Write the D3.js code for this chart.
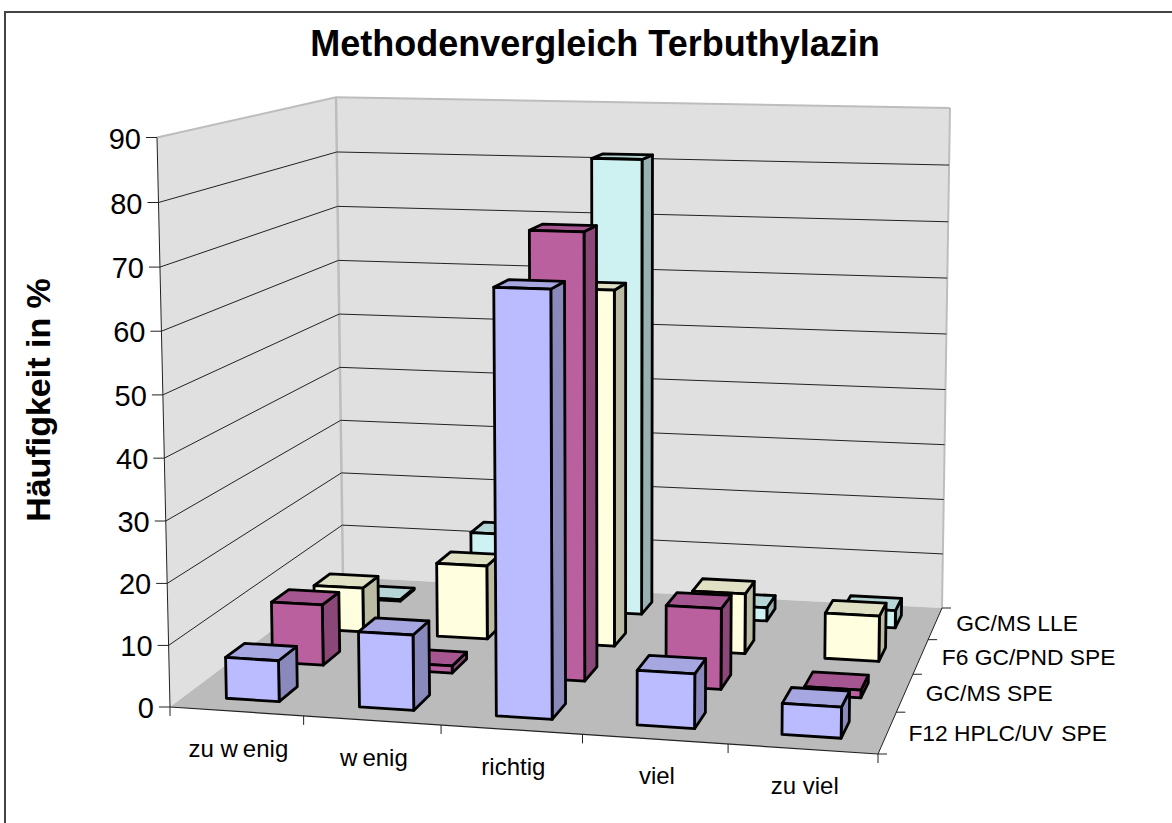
<!DOCTYPE html>
<html><head><meta charset="utf-8">
<script src="https://cdn.jsdelivr.net/npm/d3@7"></script>
<style>html,body{margin:0;padding:0;background:#fff}svg{display:block}text{font-family:"Liberation Sans",Arial,sans-serif;fill:#000}</style>
</head><body><svg id="c" width="1172" height="823"></svg>
<script>
const categories = ["zu wenig","wenig","richtig","viel","zu viel"];
const seriesNames = ["F12 HPLC/UV SPE","GC/MS SPE","F6 GC/PND SPE","GC/MS LLE"];
const hplcUv = [6.7,12.2,67.6,8.7,4.9];
const gcmsSpe = [10.3,1.2,73.8,13.4,1.3];
const gcPnd = [7.8,12.9,61.4,10.4,7.8];
const gcmsLle = [0.3,13.4,81.3,2.4,3.1];
const seriesValues = [hplcUv,gcmsSpe,gcPnd,gcmsLle];
const valueTicks = [0,10,20,30,40,50,60,70,80,90];
const front = ["#BBBBFF","#BB609F","#FFFFE0","#CEF1F2"];
const side  = ["#8989BB","#8A4778","#BBBBA4","#98B2B2"];
const top_  = ["#A6A6E0","#A55690","#E0E0C5","#B6D5D6"];

// floor and ceiling quads: [front-left, front-right, back-right, back-left]
const floorQ = [[170,707],[878,754],[942,608],[343,577]];
const ceilQ  = [[157,137.5],[886,153.6],[950,108],[336,97.2]];

function homography(q){
  const [[x0,y0],[x1,y1],[x2,y2],[x3,y3]] = q;
  const dx1=x1-x2,dx2=x3-x2,sx=x0-x1+x2-x3,dy1=y1-y2,dy2=y3-y2,sy=y0-y1+y2-y3;
  const d=dx1*dy2-dx2*dy1;
  const g=(sx*dy2-dx2*sy)/d,h=(dx1*sy-sx*dy1)/d;
  const a=x1-x0+g*x1,b=x3-x0+h*x3,c=x0,e=y1-y0+g*y1,f=y3-y0+h*y3,i=y0;
  return (u,v)=>{const w=g*u+h*v+1;return [(a*u+b*v+c)/w,(e*u+f*v+i)/w];};
}
const hF=homography(floorQ),hC=homography(ceilQ);
const uBand=d3.scaleBand().domain(categories).range([0.003,1.003]).paddingInner(0.6).paddingOuter(0.3);
const vBand=d3.scaleBand().domain(seriesNames).range([0,1]).paddingInner(0.6).paddingOuter(0.3);
const wScale=d3.scaleLinear().domain([0,90]).range([0,1]);
const persp=0.97; // vertical foreshortening of the value axis
function P(u,v,val){
  const a=hF(u,v),b=hC(u,v),s=wScale(val),t=s*persp/(1-s+s*persp);
  return [a[0]+(b[0]-a[0])*t,a[1]+(b[1]-a[1])*t];
}

const svg=d3.select("#c");
const line=d3.line();
const poly=(g,pts,fill,stroke,sw)=>g.append("path").attr("d",line(pts)+"Z").attr("fill",fill)
  .attr("stroke",stroke||"none").attr("stroke-width",sw||0).attr("stroke-linejoin","round");
const seg=(g,a,b,stroke,sw)=>g.append("path").attr("d",line([a,b])).attr("fill","none").attr("stroke",stroke).attr("stroke-width",sw);
// the reference's renderer leaves a gap after some glyphs
function gaps(s){return Array.from(s,(ch,i)=>(i>0&&s[i-1]==="w")?5:(s.slice(0,i).endsWith("UV "))?2:0).join(" ");}

svg.append("path").attr("d","M5,823V12H1172").attr("fill","none").attr("stroke","#444").attr("stroke-width",2);

svg.append("text").attr("x",595).attr("y",56).attr("text-anchor","middle").attr("font-size",36).attr("font-weight","bold").text("Methodenvergleich Terbuthylazin");
svg.append("text").attr("transform","translate(50,400) rotate(-90)").attr("text-anchor","middle").attr("font-size",34).attr("font-weight","bold").text("Häufigkeit in %");

// walls + floor
const walls=svg.append("g");
poly(walls,[P(0,0,0),P(0,1,0),P(0,1,90),P(0,0,90)],"#E0E0E0");
poly(walls,[P(0,1,0),P(1,1,0),P(1,1,90),P(0,1,90)],"#E0E0E0");
poly(walls,[P(0,0,0),P(1,0,0),P(1,1,0),P(0,1,0)],"#BBBBBB");
seg(walls,P(0,0,90),P(0,1,90),"#BDBDBD",2);
seg(walls,P(0,1,90),P(1,1,90),"#BDBDBD",2);
seg(walls,P(0,1,0),P(0,1,90),"#BDBDBD",2.5);
seg(walls,P(1,1,0),P(1,1,90),"#BDBDBD",2);

// gridlines
const grid=svg.append("g");
valueTicks.filter(d=>d>0&&d<90).forEach(d=>{
  seg(grid,P(0,0,d),P(0,1,d),"#222",1);
  seg(grid,P(0,1,d),P(1,1,d),"#222",1);
});

// axes
const axes=svg.append("g");
seg(axes,P(0,0,0),P(0,0,90),"#222",1);
seg(axes,P(0,0,0),P(1,0,0),"#222",1.2);
seg(axes,P(1,0,0),P(1,1,0),"#222",1);
valueTicks.forEach(d=>{
  const p=P(0,0,d);
  seg(axes,p,[p[0]-11,p[1]],"#222",1);
  axes.append("text").attr("x",p[0]-16).attr("y",p[1]+11).attr("text-anchor","end").attr("font-size",29).text(d);
});
d3.range(categories.length+1).forEach(i=>{
  const p=P(i/categories.length,0,0);
  seg(axes,p,[p[0],p[1]+9],"#222",1);
});
d3.range(seriesNames.length+1).forEach(i=>{
  const p=P(1,i/seriesNames.length,0);
  seg(axes,p,[p[0]+9,p[1]],"#222",1);
});
categories.forEach(c=>{
  const p=P(uBand(c)+uBand.bandwidth()/2,0,0);
  axes.append("text").attr("x",p[0]).attr("y",p[1]+45).attr("text-anchor","middle").attr("font-size",24).attr("dx",gaps(c)).text(c);
});
seriesNames.forEach(s=>{
  const p=P(1,vBand(s)+vBand.bandwidth()/2,0);
  axes.append("text").attr("x",p[0]+21).attr("y",p[1]+8).attr("font-size",22.8).attr("dx",gaps(s)).text(s);
});

// bars: back series first, left to right
const bars=svg.append("g");
d3.range(seriesNames.length-1,-1,-1).forEach(si=>{
  categories.forEach((c,ci)=>{
    const val=seriesValues[si][ci];
    const u0=uBand(c),u1=u0+uBand.bandwidth(),v0=vBand(seriesNames[si]),v1=v0+vBand.bandwidth();
    const g=bars.append("g");
    const sw=2.8;
    poly(g,[P(u1,v0,0),P(u1,v1,0),P(u1,v1,val),P(u1,v0,val)],side[si],"#000",sw);
    poly(g,[P(u0,v0,val),P(u1,v0,val),P(u1,v1,val),P(u0,v1,val)],top_[si],"#000",sw);
    poly(g,[P(u0,v0,0),P(u1,v0,0),P(u1,v0,val),P(u0,v0,val)],front[si],"#000",sw);
  });
});
</script></body></html>
